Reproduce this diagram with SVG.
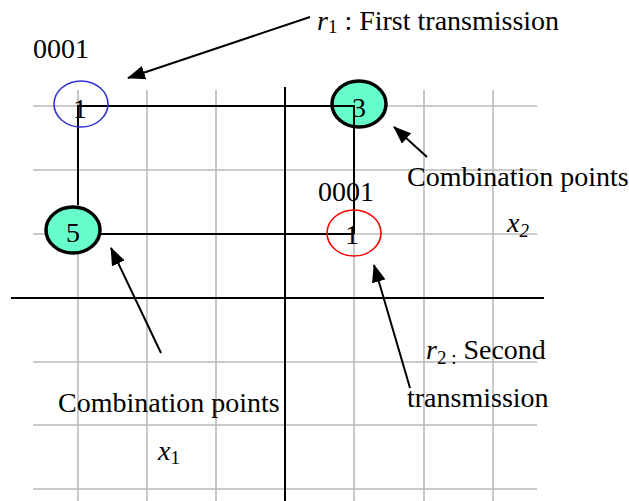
<svg xmlns="http://www.w3.org/2000/svg" width="629" height="501" viewBox="0 0 629 501">
<style>
.g{stroke:#BBBBBB;stroke-width:1.6;fill:none}
.ax{stroke:#000;stroke-width:2;fill:none}
.ln{stroke:#000;stroke-width:2;fill:none}
.t{font-family:"Liberation Serif","Times New Roman",serif;font-size:28px;fill:#000}
.s{font-size:19px}
.it{font-style:italic}
.cp{fill:#66FFCC;stroke:#000;stroke-width:3.5}
.ar{stroke:#000;stroke-width:2;fill:none;marker-end:url(#ah)}
</style>
<defs>
<marker id="ah" markerWidth="18" markerHeight="14" refX="17" refY="7" orient="auto" markerUnits="userSpaceOnUse">
<path d="M0,0 L18,7 L0,14 Z" fill="#000"/>
</marker>
</defs>
<rect width="629" height="501" fill="#fff"/>
<g id="grid">
<path class="g" d="M33,106H537M33,170H537M33,234H537M33,298H537M33,362H537M33,425H537M33,489H537"/>
<path class="g" d="M78,90V501M147,90V501M216,90V501M354,90V501M424,90V501M493,90V501"/>
</g>
<g id="axes">
<path class="ax" d="M285,87V501M11,298H544"/>
</g>
<g id="node-5">
<ellipse class="cp" cx="73" cy="230" rx="27" ry="23"/>
<text class="t" x="66" y="242">5</text>
</g>
<g id="node-3">
<ellipse class="cp" cx="359" cy="104" rx="27" ry="23"/>
</g>
<g id="connectors">
<path class="ln" d="M78,205V106H354V234"/>
<path class="ln" d="M100,234H354"/>
<path class="ar" d="M310,17L128,78"/>
<path class="ar" d="M427,157L394,127"/>
<path class="ar" d="M161,353L111,248"/>
<path class="ar" d="M410,388L374,265"/>
</g>
<g id="node-3-label">
<text class="t" x="352" y="117">3</text>
</g>
<g id="node-1a">
<ellipse cx="81" cy="104" rx="27" ry="23" fill="none" stroke="#3333CC" stroke-width="1.6"/>
<text class="t" x="73" y="118">1</text>
<text class="t" x="33" y="58">0001</text>
</g>
<g id="node-1b">
<ellipse cx="354" cy="233" rx="27" ry="23" fill="none" stroke="#FF0000" stroke-width="1.6"/>
<text class="t" x="345" y="244">1</text>
<text class="t" x="318" y="201">0001</text>
</g>
<g id="labels">
<text class="t" x="317" y="30"><tspan class="it">r</tspan><tspan class="s" dy="3">1</tspan><tspan dy="-3"> : First transmission</tspan></text>
<text class="t" x="407" y="186">Combination points</text>
<text class="t" x="58" y="412">Combination points</text>
<text class="t" x="507" y="232"><tspan class="it">x</tspan><tspan class="s it" dy="5">2</tspan></text>
<text class="t" x="158" y="460"><tspan class="it">x</tspan><tspan class="s" dy="4">1</tspan></text>
<text class="t" x="426" y="359"><tspan class="it">r</tspan><tspan class="s" dy="5">2 :</tspan><tspan dy="-5"> Second</tspan></text>
<text class="t" x="407" y="407">transmission</text>
</g>
</svg>
